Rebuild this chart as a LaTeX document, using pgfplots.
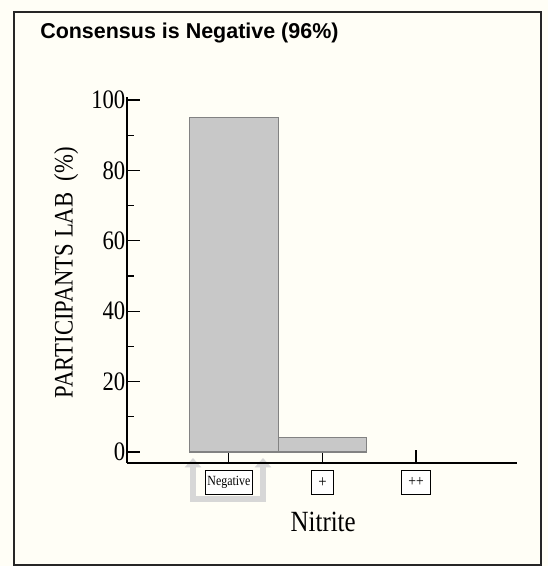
\documentclass[border=0pt]{standalone}
\usepackage{fontspec}
\setmainfont{Liberation Serif}[FakeStretch=0.85]
\newfontfamily\arialfont{Liberation Sans}
\usepackage{pgfplots}
\pgfplotsset{compat=1.18}
\usetikzlibrary{arrows.meta}
\definecolor{bg}{RGB}{255,254,246}
\definecolor{barfill}{RGB}{200,200,200}
\definecolor{baredge}{RGB}{130,130,130}
\definecolor{arrowgray}{RGB}{215,215,215}
\begin{document}
\begin{tikzpicture}
\fill[bg] (0pt,0pt) rectangle (411pt,424.5pt);
\draw[line width=1.2pt, black!85] (10.5pt,0.75pt) rectangle (405.75pt,415.5pt);
\draw[arrowgray, line width=4.5pt, {Triangle[width=12pt,length=7pt]}-{Triangle[width=12pt,length=7pt]}] (144.75pt,81pt) -- (144.75pt,50.5pt) -- (197.25pt,50.5pt) -- (197.25pt,81pt);
\node[anchor=west, inner sep=0pt, font=\arialfont\bfseries\fontsize{16.1}{16.1}\selectfont] at (30pt,399.75pt) {Consensus is Negative (96\%)};
\begin{axis}[
  scale only axis, width=292.5pt, height=274.5pt,
  at={(95.25pt,77.25pt)}, anchor=south west,
  xmin=-1.09, xmax=3.08, ymin=-3.125, ymax=100.85,
  axis x line*=bottom, axis y line*=left,
  axis line style={line width=1pt, black},
  ytick={0,20,40,60,80,100}, minor ytick={10,30,50,70,90},
  xtick={0,1,2}, xticklabels={Negative,\makebox[14pt]{\fontsize{13}{13}\selectfont +},\makebox[19pt]{\fontsize{12}{12}\selectfont ++}},
  tick align=inside, major tick length=9.75pt, minor tick length=5pt,
  tick style={black, line width=0.8pt},
  /pgf/number format/assume math mode=true,
  yticklabel style={font=\fontsize{20}{20}\selectfont, xshift=2.25pt},
  xticklabel style={draw, fill=white, line width=0.6pt, font=\fontsize{10.5}{10.5}\selectfont, minimum height=17.5pt, inner xsep=1.5pt, inner ysep=0pt, anchor=north, yshift=-5.5pt},
  xlabel={Nitrite},
  xlabel style={at={(axis description cs:0.503,-0.161)}, anchor=center, font=\fontsize{22}{22}\selectfont},
  ylabel={PARTICIPANTS LAB\ \ (\%)},
  ylabel style={at={(axis description cs:-0.156,0.52)}, anchor=center, font=\fontsize{20}{20}\selectfont},
]
\addplot[ybar, bar width=0.95, bar shift=3.75pt, fill=barfill, draw=baredge, line width=0.8pt] coordinates {(0,95)};
\addplot[ybar, bar width=0.95, bar shift=0pt, fill=barfill, draw=baredge, line width=0.8pt] coordinates {(1,4)};
\end{axis}
\end{tikzpicture}
\end{document}
